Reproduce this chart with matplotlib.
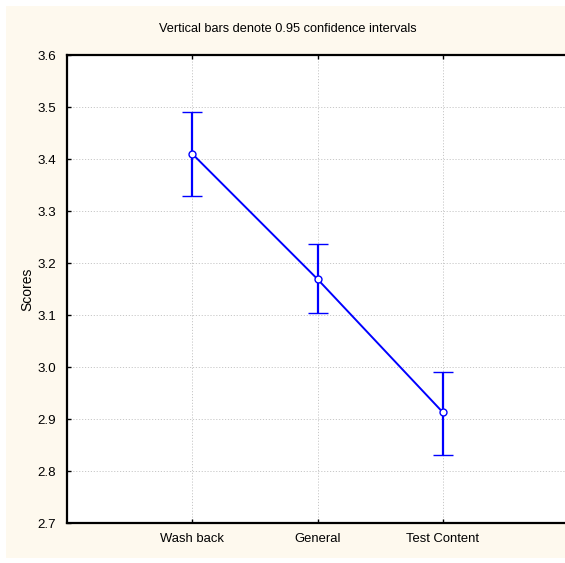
import matplotlib
matplotlib.use("Agg")
import matplotlib.pyplot as plt
from matplotlib.patches import Rectangle

categories = ["Wash back", "General", "Test Content"]
means = [3.41, 3.169, 2.913]
ci_low = [3.329, 3.104, 2.831]
ci_high = [3.49, 3.236, 2.991]
yticks = [2.7, 2.8, 2.9, 3.0, 3.1, 3.2, 3.3, 3.4, 3.5, 3.6]

plt.rcParams['font.family'] = ['Liberation Sans', 'DejaVu Sans']

W, H = 565, 563
fig = plt.figure(figsize=(W / 100, H / 100), dpi=100, facecolor='white')
fig.patches.append(Rectangle((6 / W, 1 - 558 / H), (W - 6) / W, 552 / H,
                             transform=fig.transFigure, facecolor='#FEF9EE',
                             edgecolor='none', zorder=-10))

left, right, top, bottom = 67, 568, 55, 523
ax = fig.add_axes([left / W, 1 - bottom / H, (right - left) / W, (bottom - top) / H])
ax.set_facecolor('white')

x = list(range(1, len(categories) + 1))
yerr = [[m - l for m, l in zip(means, ci_low)], [h - m for m, h in zip(means, ci_high)]]
ax.errorbar(x, means, yerr=yerr, color='#0000FF', lw=1.4, elinewidth=1.6,
            capsize=7, capthick=1.6, marker='o', ms=5, mfc='white',
            mec='#0000FF', mew=1.0, zorder=3)

ax.set_xlim(0, 4)
ax.set_ylim(2.7, 3.6)
ax.set_xticks(x)
ax.set_xticklabels(categories, fontsize=9.4)
ax.set_yticks(yticks)
ax.set_yticklabels([f"{v:.1f}" for v in yticks], fontsize=9.6)
ax.tick_params(axis='both', direction='in', length=3, width=1, top=True, color='black')
ax.tick_params(axis='x', pad=7)
ax.tick_params(axis='y', pad=8)
ax.grid(True, color='#C8C8C8', linestyle=(0, (1.2, 1.8)), linewidth=0.7)
ax.set_axisbelow(True)
for s in ['left', 'top', 'bottom']:
    ax.spines[s].set_linewidth(1.6)
    ax.spines[s].set_color('black')
ax.spines['right'].set_visible(False)

ax.set_ylabel("Scores", fontsize=10)
ax.yaxis.set_label_coords((34 - left) / (right - left), 0.5)
fig.text(288 / W, 1 - 29 / H, "Vertical bars denote 0.95 confidence intervals",
         ha='center', va='center', fontsize=9.2)

fig.savefig("out.png", dpi=100, facecolor=fig.get_facecolor())
